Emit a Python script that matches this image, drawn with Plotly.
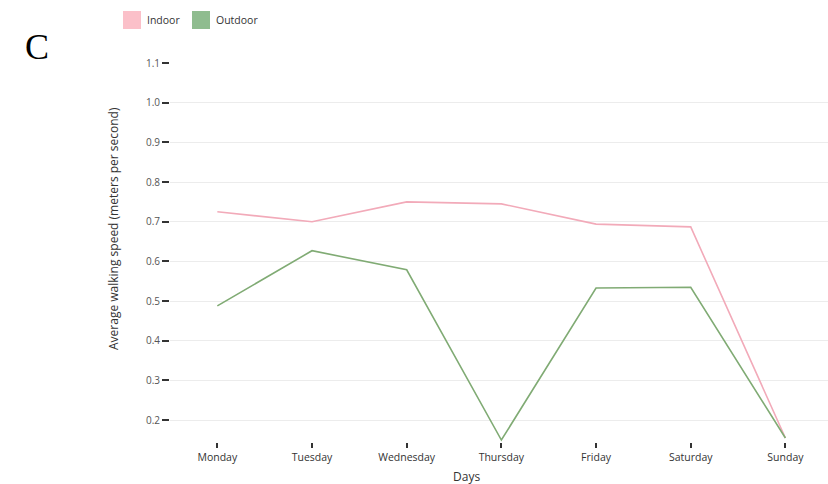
import plotly.graph_objects as go

days = ["Monday", "Tuesday", "Wednesday", "Thursday", "Friday", "Saturday", "Sunday"]
indoor = [0.725, 0.700, 0.750, 0.745, 0.694, 0.687, 0.155]
outdoor = [0.488, 0.627, 0.579, 0.150, 0.533, 0.535, 0.155]
y_ticks = [0.2, 0.3, 0.4, 0.5, 0.6, 0.7, 0.8, 0.9, 1.0, 1.1]
series_names = ["Indoor", "Outdoor"]

pink_line = "#f2aab9"
green_line = "#80ab74"
pink_key = "#fbc0c9"
green_key = "#8fbc8f"
font = "Open Sans, Noto Sans, sans-serif"

# plot-area geometry in pixels, used to place the key, titles and panel letter
W, H = 828, 484
ML, MT, MB = 170, 63, 42
PW, PH = W - ML, H - MT - MB


def px(x):
    return (x - ML) / PW


def py(y):
    return 1 - (y - MT) / PH


fig = go.Figure()
fig.add_trace(go.Scatter(x=days, y=indoor, mode="lines", name=series_names[0],
                         line=dict(color=pink_line, width=1.6), showlegend=False,
                         cliponaxis=False))
fig.add_trace(go.Scatter(x=days, y=outdoor, mode="lines", name=series_names[1],
                         line=dict(color=green_line, width=1.6), showlegend=False,
                         cliponaxis=False))

# square swatch key above the plot
shapes, annotations = [], []
for name, col, x0 in [(series_names[0], pink_key, 123), (series_names[1], green_key, 192)]:
    shapes.append(dict(type="rect", xref="paper", yref="paper",
                       x0=px(x0), x1=px(x0 + 18), y0=py(29), y1=py(11),
                       fillcolor=col, line=dict(width=0)))
    annotations.append(dict(text=name, xref="paper", yref="paper",
                            x=px(x0 + 22), y=py(20), xanchor="left", yanchor="middle",
                            showarrow=False, font=dict(size=10.5, color="#333")))

# axis titles
annotations.append(dict(text="Average walking speed (meters per second)",
                        xref="paper", yref="paper", x=px(114), y=py(229),
                        xanchor="center", yanchor="middle", textangle=-90,
                        showarrow=False, font=dict(size=12, color="#333")))
annotations.append(dict(text="Days", xref="paper", yref="paper",
                        x=px(466), y=py(476), xanchor="center", yanchor="middle",
                        showarrow=False, font=dict(size=12, color="#333")))

annotations.append(dict(text="C", xref="paper", yref="paper",
                        x=px(37), y=py(47), xanchor="center", yanchor="middle",
                        showarrow=False,
                        font=dict(family="Liberation Serif, Times New Roman, serif",
                                  size=36, color="black")))

fig.update_layout(
    width=W, height=H,
    margin=dict(l=ML, r=0, t=MT, b=MB),
    plot_bgcolor="white", paper_bgcolor="white",
    font=dict(family=font, size=10.5, color="#333"),
    showlegend=False,
    xaxis=dict(type="category", categoryorder="array", categoryarray=days,
               range=[-0.5, 6.45], showgrid=False, zeroline=False, showline=False,
               ticks="outside", ticklen=5, tickwidth=1.5, tickcolor="#333",
               tickfont=dict(size=10.5, color="#333")),
    yaxis=dict(range=[0.145, 1.1], tickvals=y_ticks,
               ticktext=[f"{v:.1f}" for v in y_ticks],
               showgrid=True, gridcolor="#ececec", gridwidth=1,
               zeroline=False, showline=False,
               ticks="outside", ticklen=7, tickwidth=2, tickcolor="#333",
               tickfont=dict(size=10, color="#555")),
    shapes=shapes,
    annotations=annotations,
)

fig.write_html("out.html")
